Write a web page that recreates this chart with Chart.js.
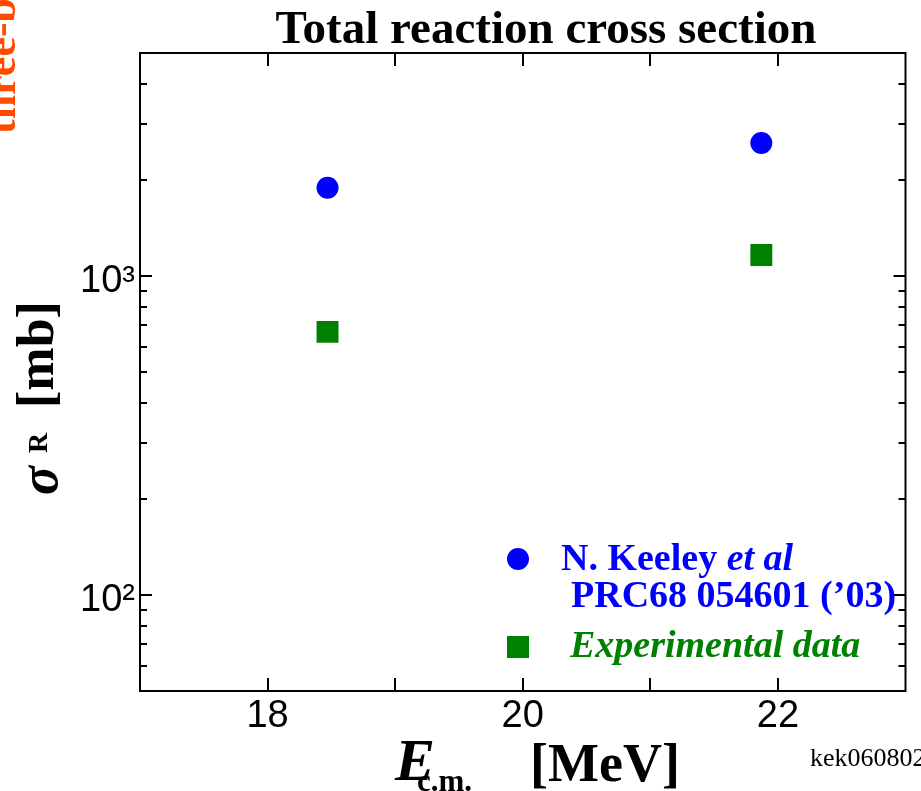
<!DOCTYPE html>
<html>
<head>
<meta charset="utf-8">
<style>
  html, body { margin: 0; padding: 0; background: #fff; }
  #wrap { width: 921px; height: 791px; position: relative; }
</style>
<script src="https://cdn.jsdelivr.net/npm/chart.js@4.4.0/dist/chart.umd.min.js"></script>
</head>
<body>
<div id="wrap"><canvas id="chart" width="921" height="791"></canvas></div>
<script>
// values
const energies = [18.47, 21.87];          // E c.m. [MeV]
const keeley = [1890, 2610];              // N. Keeley et al, PRC68 054601 ('03)
const experiment = [668, 1164];           // experimental data

const xTicks = [18, 19, 20, 21, 22];
const xLabels = [18, 20, 22];
const yMajor = [100, 1000];
const yMinor = [60, 70, 80, 90, 200, 300, 400, 500, 600, 700, 800, 900, 2000, 3000, 4000];
const yLabels = { 100: '10\u00B2', 1000: '10\u00B3' };

const serif = '"Liberation Serif", "Times New Roman", serif';
const sans = '"Liberation Sans", Arial, sans-serif';

const ctx = document.getElementById('chart').getContext('2d');

// frame, inward ticks, titles, legend
const decor = {
  id: 'decor',
  afterDraw(chart) {
    const c = chart.ctx;
    const a = chart.chartArea;
    const xs = chart.scales.x, ys = chart.scales.y;
    c.save();
    c.strokeStyle = '#000';
    c.lineWidth = 2;
    c.strokeRect(a.left, a.top, a.right - a.left, a.bottom - a.top);

    c.beginPath();
    xTicks.forEach(v => {
      const px = Math.round(xs.getPixelForValue(v));
      c.moveTo(px, a.bottom); c.lineTo(px, a.bottom - 13);
      c.moveTo(px, a.top); c.lineTo(px, a.top + 13);
    });
    yMajor.forEach(v => {
      const py = Math.round(ys.getPixelForValue(v));
      c.moveTo(a.left, py); c.lineTo(a.left + 12, py);
      c.moveTo(a.right, py); c.lineTo(a.right - 12, py);
    });
    yMinor.forEach(v => {
      const py = Math.round(ys.getPixelForValue(v));
      c.moveTo(a.left, py); c.lineTo(a.left + 7, py);
      c.moveTo(a.right, py); c.lineTo(a.right - 7, py);
    });
    c.stroke();

    // title
    c.fillStyle = '#000';
    c.textBaseline = 'alphabetic';
    c.textAlign = 'center';
    c.font = 'bold 47px ' + serif;
    c.fillText('Total reaction cross section', 546, 43);

    // x axis title
    c.textAlign = 'left';
    c.font = 'italic bold 60px ' + serif;
    c.fillText('E', 395, 780);
    c.font = 'bold 31px ' + serif;
    c.fillText('c.m.', 417, 791);
    c.font = 'bold 54px ' + serif;
    c.fillText('[MeV]', 530, 781);

    // y axis title
    c.save();
    c.translate(57, 495);
    c.rotate(-Math.PI / 2);
    c.font = 'italic bold 54px ' + serif;
    c.fillText('\u03C3', 0, 0);
    c.font = 'bold 28px ' + serif;
    c.fillText('R', 42, -10);
    c.font = 'bold 52px ' + serif;
    c.fillText('[mb]', 87, -4);
    c.restore();

    // legend
    c.fillStyle = '#0000ff';
    c.beginPath();
    c.arc(518, 559, 11, 0, Math.PI * 2);
    c.fill();
    c.font = 'bold 38px ' + serif;
    c.fillText('N. Keeley ', 561, 570);
    const w = c.measureText('N. Keeley ').width;
    c.font = 'italic bold 38px ' + serif;
    c.fillText('et al', 561 + w, 570);
    c.font = 'bold 38px ' + serif;
    c.fillText('PRC68 054601 (\u201903)', 571, 607);

    c.fillStyle = '#008000';
    c.fillRect(507, 636, 22, 22);
    c.font = 'italic bold 38px ' + serif;
    c.fillText('Experimental data', 570, 657);

    // stamp
    c.fillStyle = '#000';
    c.font = '26px ' + serif;
    c.fillText('kek060802', 810, 766);

    // cut-off side label
    c.save();
    c.translate(15, 134);
    c.rotate(-Math.PI / 2);
    c.fillStyle = '#ff4a00';
    c.font = 'bold 44px ' + serif;
    c.fillText('three-body', 0, 0);
    c.restore();

    c.restore();
  }
};

new Chart(ctx, {
  type: 'scatter',
  data: {
    datasets: [
      {
        label: 'N. Keeley et al',
        data: energies.map((e, i) => ({ x: e, y: keeley[i] })),
        pointStyle: 'circle',
        pointRadius: 11,
        backgroundColor: '#0000ff',
        borderColor: '#0000ff',
        borderWidth: 0
      },
      {
        label: 'Experimental data',
        data: energies.map((e, i) => ({ x: e, y: experiment[i] })),
        pointStyle: 'rect',
        pointRadius: 15.5,
        backgroundColor: '#008000',
        borderColor: '#008000',
        borderWidth: 0
      }
    ]
  },
  options: {
    responsive: false,
    animation: false,
    layout: { padding: { top: 53, right: 14, left: 0, bottom: 0 } },
    plugins: {
      legend: { display: false },
      title: { display: false },
      tooltip: { enabled: false }
    },
    scales: {
      x: {
        type: 'linear',
        min: 17,
        max: 23,
        grid: { display: false, drawTicks: false },
        border: { display: false },
        ticks: {
          stepSize: 1,
          padding: 3,
          color: '#000',
          font: { family: sans, size: 38 },
          callback: v => xLabels.includes(v) ? String(v) : ''
        },
        afterFit: s => { s.height = 100; }
      },
      y: {
        type: 'logarithmic',
        min: 50,
        max: 5000,
        grid: { display: false, drawTicks: false },
        border: { display: false },
        ticks: {
          autoSkip: false,
          padding: 5,
          labelOffset: 6,
          color: '#000',
          font: { family: sans, size: 38 },
          callback: v => yLabels[v] || ''
        },
        afterFit: s => { s.width = 140; }
      }
    }
  },
  plugins: [decor]
});
</script>
</body>
</html>
